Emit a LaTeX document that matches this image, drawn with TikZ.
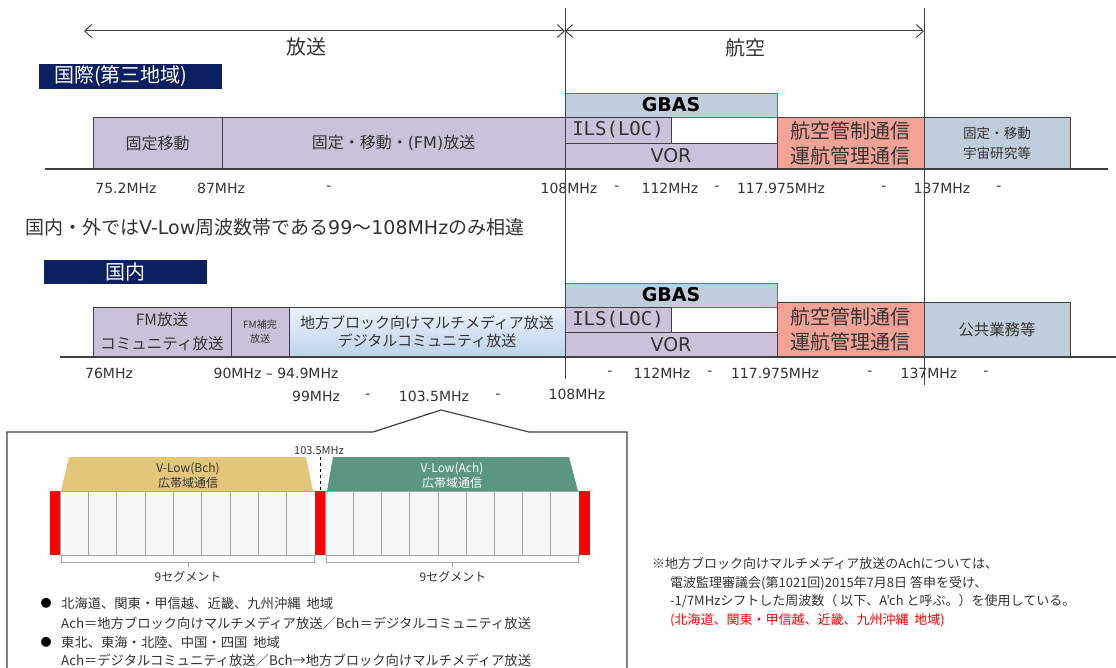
\documentclass[tikz,border=0pt]{standalone}
\usepackage{fontspec}
\setmainfont{Noto Sans CJK JP}
\newfontfamily\lat{DejaVu Sans}
\newfontfamily\latmono{DejaVu Sans Mono}
\usetikzlibrary{arrows.meta}
\definecolor{navy}{RGB}{12,31,96}
\definecolor{lav}{RGB}{204,193,218}
\definecolor{bgrey}{RGB}{192,205,220}
\definecolor{salmon}{RGB}{242,163,150}
\definecolor{gbred}{RGB}{192,80,77}
\definecolor{txt}{RGB}{51,51,51}
\definecolor{linec}{RGB}{64,64,64}
\definecolor{mmtop}{RGB}{234,241,251}
\definecolor{mmbot}{RGB}{189,211,238}
\definecolor{bchy}{RGB}{228,198,122}
\definecolor{achg}{RGB}{90,150,128}
\definecolor{segf}{RGB}{246,247,249}
\definecolor{segl}{RGB}{160,165,170}
\newcommand\rbox[7]{\node[#6, anchor=north west, minimum width={#4-#2}, minimum height={#5-#3}] (#1) at (#2,#3) {#7};}
\newcommand\fsz[2]{\fontsize{#1}{#2}\selectfont}
\begin{document}
\begin{tikzpicture}[x=1pt,y=-1pt,
  band/.style={draw=linec, line width=0.8pt, inner sep=0pt, outer sep=0pt, text=txt, align=center},
  lavbox/.style={band, fill=lav},
  greybox/.style={band, fill=bgrey},
  atcbox/.style={band, fill=salmon, font=\fsz{20}{25}},
  gbasbox/.style={band, fill=bgrey, draw=gbred, text=black, font=\lat\bfseries\fsz{19}{22}},
  navybox/.style={fill=navy, text=white, inner sep=0pt, outer sep=0pt, font=\fsz{20}{24}},
  freq/.style={font=\lat\fsz{14}{16}, text=txt, inner sep=0pt},
  head/.style={font=\fsz{20}{24}, text=txt, inner sep=0pt},
  vline/.style={draw=linec, line width=1pt},
  dimarr/.style={draw=linec, line width=1pt, >={Straight Barb[length=7pt,width=13pt]}, <->},
  seg/.style={fill=segf, draw=segl, line width=0.6pt},
  redstrip/.style={fill=red, draw=none},
  brace/.style={draw=segl, line width=0.8pt},
  small/.style={font=\fsz{12}{14}, inner sep=0pt},
  note/.style={font=\fsz{13.3}{16}, text=txt, inner sep=0pt, anchor=west},
  callout/.style={draw=linec, line width=1.2pt}
]
\useasboundingbox (0,0) rectangle (1116,668);
\fill[white] (0,0) rectangle (1116,668);

% ---------- headings and dimension arrows ----------
\coordinate (v1t) at (565,8);  \coordinate (v1b) at (565,379);
\coordinate (v2t) at (924,8);  \coordinate (v2b) at (924,385);
\coordinate (a1l) at (84,31);  \coordinate (a1r) at (565,31);
\coordinate (a2l) at (565,31); \coordinate (a2r) at (924,31);
\draw[dimarr] (a1l) -- (a1r);
\draw[dimarr] (a2l) -- (a2r);
\node[head] (hb) at (306,47) {放送};
\node[head] (ha) at (745,48) {航空};

% ---------- international band ----------
\node[navybox, anchor=north west, minimum height=25, text width={183-30}, inner xsep=15pt, align=left] (intl) at (39,64) {国際(第三地域)};
\rbox{i1}{93}{117}{222}{169}{lavbox, font=\fsz{16}{18}}{固定移動}
\rbox{i2}{222}{117}{565}{169}{lavbox, font=\fsz{16}{18}}{固定・移動・{\lat (FM)}放送}
\rbox{ig}{565}{93}{777}{117}{gbasbox}{GBAS}
\rbox{iils}{565}{117}{671}{143}{lavbox, font=\latmono\fsz{19}{22}}{ILS(LOC)}
\rbox{ivor}{565}{143}{777}{169}{lavbox, font=\lat\fsz{19}{22}}{VOR}
\rbox{iatc}{777}{117}{924}{169}{atcbox}{航空管制通信\\運航管理通信}
\rbox{isp}{924}{117}{1070}{169}{greybox, font=\fsz{13.6}{20}}{固定・移動\\宇宙研究等}
\coordinate (b1l) at (45,169); \coordinate (b1r) at (1108,169);
\draw[linec, line width=1.2pt] (b1l) -- (b1r);

\node[freq] (f11) at (126,188) {75.2MHz};
\node[freq] (f12) at (221,188) {87MHz};
\node[freq] (f13) at (329,188) {-};
\node[freq] (f14) at (569,188) {108MHz};
\node[freq] (f15) at (617,188) {-};
\node[freq] (f16) at (670,188) {112MHz};
\node[freq] (f17) at (717,188) {-};
\node[freq] (f18) at (781,188) {117.975MHz};
\node[freq] (f19) at (884,188) {-};
\node[freq] (f1a) at (942,188) {137MHz};
\node[freq] (f1b) at (999,188) {-};

\node[font=\fsz{19}{22}, text=txt, inner sep=0pt, anchor=west] (diff) at (25,227) {国内・外では{\lat V-Low}周波数帯である{\lat 99}～{\lat 108MHz}のみ相違};

% ---------- domestic band ----------
\node[navybox, anchor=north west, minimum width=163, minimum height=24] (dom) at (44,260) {国内};
\rbox{dg}{565}{283}{777}{307}{gbasbox}{GBAS}
\rbox{dils}{565}{307}{671}{332}{lavbox, font=\latmono\fsz{19}{22}}{ILS(LOC)}
\rbox{dvor}{565}{332}{777}{357}{lavbox, font=\lat\fsz{19}{22}}{VOR}
\rbox{dfm}{93}{307}{231}{357}{lavbox, font=\fsz{15.5}{24}}{FM放送\\コミュニティ放送}
\rbox{dfmc}{231}{307}{289}{357}{lavbox, font=\fsz{10}{14}}{FM補完\\放送}
\rbox{dmm}{289}{307}{565}{357}{band, top color=mmtop, bottom color=mmbot, font=\fsz{15}{18}}{地方ブロック向けマルチメディア放送\\デジタルコミュニティ放送}
\rbox{datc}{777}{302}{924}{357}{atcbox}{航空管制通信\\運航管理通信}
\rbox{dpub}{924}{302}{1070}{357}{greybox, font=\fsz{15.4}{18}}{公共業務等}
\coordinate (b2l) at (60,357); \coordinate (b2r) at (1116,357);
\draw[linec, line width=1.2pt] (b2l) -- (b2r);

\node[freq] (f21) at (109,373) {76MHz};
\node[freq] (f22) at (276,373) {90MHz – 94.9MHz};
\node[freq] (f23) at (610,373) {-};
\node[freq] (f24) at (662,373) {112MHz};
\node[freq] (f25) at (710,373) {-};
\node[freq] (f26) at (775,373) {117.975MHz};
\node[freq] (f27) at (870,373) {-};
\node[freq] (f28) at (929,373) {137MHz};
\node[freq] (f29) at (986,373) {-};
\node[freq] (f31) at (316,396) {99MHz};
\node[freq] (f32) at (368,396) {-};
\node[freq] (f33) at (434,396) {103.5MHz};
\node[freq] (f34) at (498,396) {-};
\node[freq] (f35) at (577,394) {108MHz};

% vertical boundary lines
\draw[vline] (v1t) -- (v1b);
\draw[vline] (v2t) -- (v2b);

% ---------- callout ----------
\coordinate (c1) at (7,672); \coordinate (c2) at (7,432); \coordinate (c3) at (373,432);
\coordinate (c4) at (441,410); \coordinate (c5) at (529,432); \coordinate (c6) at (627,432);
\coordinate (c7) at (627,672);
\draw[callout] (c1) -- (c2) -- (c3) -- (c4) -- (c5) -- (c6) -- (c7);

% trapezoids
\fill[bchy] (61,491) -- (69,457) -- (306,457) -- (313,491) -- cycle;
\fill[achg] (327,491) -- (333,457) -- (569,457) -- (578,491) -- cycle;
\node[small, text=txt] (bch1) at (188,469) {V-Low(Bch)};
\node[small, text=txt] (bch2) at (188,483) {広帯域通信};
\node[small, text=white] (ach1) at (452,469) {V-Low(Ach)};
\node[small, text=white] (ach2) at (452,483) {広帯域通信};

% segments
\foreach \i in {0,...,8} {
  \pgfmathsetmacro\xa{60+\i*255/9}
  \pgfmathsetmacro\xb{60+(\i+1)*255/9}
  \draw[seg] (\xa,491) rectangle (\xb,555);
  \pgfmathsetmacro\xc{325+\i*254/9}
  \pgfmathsetmacro\xd{325+(\i+1)*254/9}
  \draw[seg] (\xc,491) rectangle (\xd,555);
}
\fill[redstrip] (50,491) rectangle (60,555);
\fill[redstrip] (315,491) rectangle (325,555);
\fill[redstrip] (579,491) rectangle (590,555);

% 103.5MHz marker
\node[font=\fsz{11}{13}, text=txt, inner sep=0pt] (m1035) at (319,451) {103.5MHz};
\coordinate (dmt) at (320,457); \coordinate (dmb) at (320,491);
\draw[black, dashed, line width=0.9pt] (dmt) -- (dmb);

% braces
\draw[brace] (61,556) -- (61,562) -- (314,562) -- (314,556);
\draw[brace] (188,562) -- (188,567);
\draw[brace] (326,556) -- (326,562) -- (578,562) -- (578,556);
\draw[brace] (452,562) -- (452,567);
\node[small, text=txt] (s9a) at (188,577) {9セグメント};
\node[small, text=txt] (s9b) at (453,577) {9セグメント};

% bullets
\node[font=\fsz{11}{13}, text=black, inner sep=0pt] (bul1) at (46,603) {●};
\node[font=\fsz{11}{13}, text=black, inner sep=0pt] (bul2) at (46,642) {●};
\node[note] (bl1) at (61,603) {北海道、関東・甲信越、近畿、九州沖縄\ \ 地域};
\node[note] (bl2) at (61,623) {Ach＝地方ブロック向けマルチメディア放送／Bch＝デジタルコミュニティ放送};
\node[note] (bl3) at (61,642) {東北、東海・北陸、中国・四国\ \ 地域};
\node[note] (bl4) at (61,660) {Ach＝デジタルコミュニティ放送／Bch→地方ブロック向けマルチメディア放送};

% right note
\node[note, font=\fsz{13}{16}] (n1) at (652,563) {※地方ブロック向けマルチメディア放送のAchについては、};
\node[note, font=\fsz{13}{16}] (n2) at (670,583) {電波監理審議会(第1021回)2015年7月8日 答申を受け、};
\node[note, font=\fsz{13}{16}] (n3) at (670,601) {-1/7MHzシフトした周波数（ 以下、A’ch と呼ぶ。）を使用している。};
\node[note, font=\fsz{13}{16}, text=red] (n4) at (670,620) {(北海道、関東・甲信越、近畿、九州沖縄\ \ 地域)};
\end{tikzpicture}
\end{document}
